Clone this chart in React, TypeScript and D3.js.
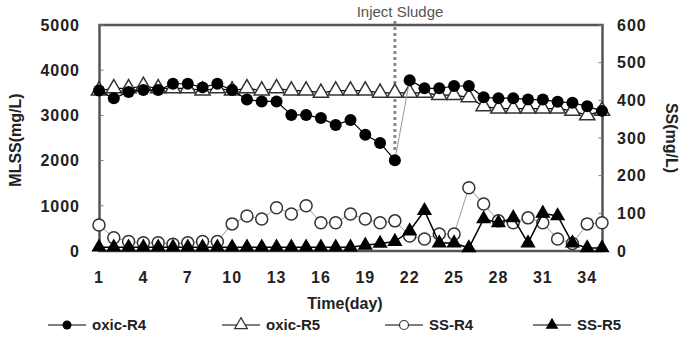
import React from "react";
import * as d3 from "d3";

const days = d3.range(1, 36);
const oxicR4 = [3550, 3380, 3520, 3560, 3560, 3700, 3700, 3620, 3700, 3560, 3350, 3310, 3310, 3010, 3010, 2940, 2790, 2900, 2570, 2390, 2010, 3780, 3600, 3600, 3650, 3650, 3400, 3380, 3380, 3350, 3350, 3300, 3280, 3200, 3100];
const oxicR5 = [3550, 3600, 3600, 3650, 3600, 3600, 3600, 3550, 3600, 3550, 3600, 3550, 3600, 3550, 3550, 3500, 3550, 3550, 3550, 3500, 3500, 3500, 3500, 3450, 3450, 3400, 3200, 3150, 3150, 3150, 3150, 3150, 3100, 3000, 3100];
const ssR4 = [69, 35, 25, 22, 22, 18, 22, 25, 25, 72, 93, 85, 115, 98, 120, 75, 75, 98, 85, 75, 80, 40, 32, 45, 45, 168, 125, 80, 75, 88, 75, 32, 20, 72, 75];
const ssR5 = [10, 10, 10, 10, 10, 10, 10, 10, 10, 10, 10, 10, 10, 10, 10, 10, 10, 10, 15, 20, 25, 53, 107, 21, 21, 8, 85, 75, 88, 21, 100, 93, 21, 8, 8];
const leftTicks = [0, 1000, 2000, 3000, 4000, 5000];
const rightTicks = [0, 100, 200, 300, 400, 500, 600];
const xTicks = [1, 4, 7, 10, 13, 16, 19, 22, 25, 28, 31, 34];
const injectDay = 21;

const W = 688, H = 345;
const L = 99.5, R = 602.5, T = 25, B = 251;
const FONT = "'Liberation Sans', Arial, sans-serif";

export default function App() {
  const x = d3.scaleLinear().domain([1, 35]).range([99, 602]);
  const yL = d3.scaleLinear().domain([0, 5000]).range([B, T]);
  const yR = d3.scaleLinear().domain([0, 600]).range([B, T]);
  const tri = d3.symbol(d3.symbolTriangle, 100)()!;
  const triS = d3.symbol(d3.symbolTriangle, 70)()!;

  const lineL = (vals: number[], idx: number[]) =>
    d3.line<number>().x((i) => x(days[i])).y((i) => yL(vals[i]))(idx)!;
  const lineR = (vals: number[]) =>
    d3.line<number>().x((_, i) => x(days[i])).y((v) => yR(v))(vals)!;

  const seg1 = d3.range(0, 21);
  const seg2 = d3.range(21, 35);
  const all = d3.range(0, 35);

  const legend = [
    { label: "oxic-R4", x: 48, kind: "fc" },
    { label: "oxic-R5", x: 222, kind: "ot" },
    { label: "SS-R4", x: 385, kind: "oc" },
    { label: "SS-R5", x: 533, kind: "ft" },
  ];
  const LY = 325;

  const marker = (kind: string, cx: number, cy: number, key: any) => {
    if (kind === "fc") return <circle key={key} cx={cx} cy={cy} r={6} fill="#000" />;
    if (kind === "oc") return <circle key={key} cx={cx} cy={cy} r={6} fill="#fff" stroke="#333" strokeWidth={1.5} />;
    if (kind === "ot") return <path key={key} d={tri} transform={`translate(${cx},${cy})`} fill="#fff" stroke="#333" strokeWidth={1.5} />;
    return <path key={key} d={tri} transform={`translate(${cx},${cy})`} fill="#000" />;
  };

  return (
    <svg width={W} height={H} style={{ position: "absolute", left: 0, top: 0, background: "#fff" }} fontFamily={FONT}>
      <rect x={L} y={T} width={R - L} height={B - T} fill="none" stroke="#555" strokeWidth={2.5} />
      {leftTicks.map((t) => (
        <g key={"l" + t}>
          <line x1={L} x2={L + 4} y1={yL(t)} y2={yL(t)} stroke="#777" strokeWidth={1} />
          <text x={80} y={yL(t)} dy="0.36em" textAnchor="end" fontSize={16} fontWeight="bold" letterSpacing={1} fill="#222">{t}</text>
        </g>
      ))}
      {rightTicks.map((t) => (
        <g key={"r" + t}>
          <line x1={R - 4} x2={R} y1={yR(t)} y2={yR(t)} stroke="#777" strokeWidth={1} />
          <text x={617} y={yR(t)} dy="0.36em" textAnchor="start" fontSize={16} fontWeight="bold" letterSpacing={1} fill="#222">{t}</text>
        </g>
      ))}
      {xTicks.map((t) => (
        <text key={"x" + t} x={x(t)} y={277} dy="0.36em" textAnchor="middle" fontSize={16} fontWeight="bold" letterSpacing={1} fill="#222">{t}</text>
      ))}
      <text x={345} y={303} dy="0.36em" textAnchor="middle" fontSize={16} fontWeight="bold" fill="#222">Time(day)</text>
      <text transform={`translate(15,140) rotate(-90)`} dy="0.36em" textAnchor="middle" fontSize={16} fontWeight="bold" fill="#222">MLSS(mg/L)</text>
      <text transform={`translate(672,138) rotate(90)`} dy="0.36em" textAnchor="middle" fontSize={16} fontWeight="bold" fill="#222">SS(mg/L)</text>

      <text x={400} y={12} dy="0.36em" textAnchor="middle" fontSize={15} fill="#555">Inject Sludge</text>
      <line x1={x(injectDay)} x2={x(injectDay)} y1={21} y2={150} stroke="#888" strokeWidth={3} strokeDasharray="3,3" />

      <path d={lineR(ssR4)} fill="none" stroke="#999" strokeWidth={1} />
      {ssR4.map((v, i) => marker("oc", x(days[i]), yR(v), "c4" + i))}
      <path d={lineR(ssR5)} fill="none" stroke="#000" strokeWidth={1.5} />
      {ssR5.map((v, i) => marker("ft", x(days[i]), yR(v), "t5" + i))}

      <path d={lineL(oxicR5, all)} fill="none" stroke="#000" strokeWidth={1.2} />
      {oxicR5.map((v, i) => marker("ot", x(days[i]), yL(v), "o5" + i))}
      <path d={lineL(oxicR4, seg1)} fill="none" stroke="#000" strokeWidth={1.2} />
      <path d={lineL(oxicR4, [20, 21])} fill="none" stroke="#999" strokeWidth={1} />
      <path d={lineL(oxicR4, seg2)} fill="none" stroke="#000" strokeWidth={1.2} />
      {oxicR4.map((v, i) => marker("fc", x(days[i]), yL(v), "o4" + i))}

      {legend.map((l) => (
        <g key={l.label}>
          <line x1={l.x} x2={l.x + 38} y1={LY} y2={LY} stroke="#000" strokeWidth={1.2} />
          {l.kind === "fc" && <circle cx={l.x + 19} cy={LY} r={4.5} fill="#000" />}
          {l.kind === "oc" && <circle cx={l.x + 19} cy={LY} r={4.5} fill="#fff" stroke="#333" strokeWidth={1.2} />}
          {l.kind === "ot" && <path d={triS} transform={`translate(${l.x + 19},${LY})`} fill="#fff" stroke="#333" strokeWidth={1.2} />}
          {l.kind === "ft" && <path d={triS} transform={`translate(${l.x + 19},${LY})`} fill="#000" />}
          <text x={l.x + 44} y={LY} dy="0.36em" fontSize={15} fontWeight="bold" fill="#222">{l.label}</text>
        </g>
      ))}
    </svg>
  );
}
